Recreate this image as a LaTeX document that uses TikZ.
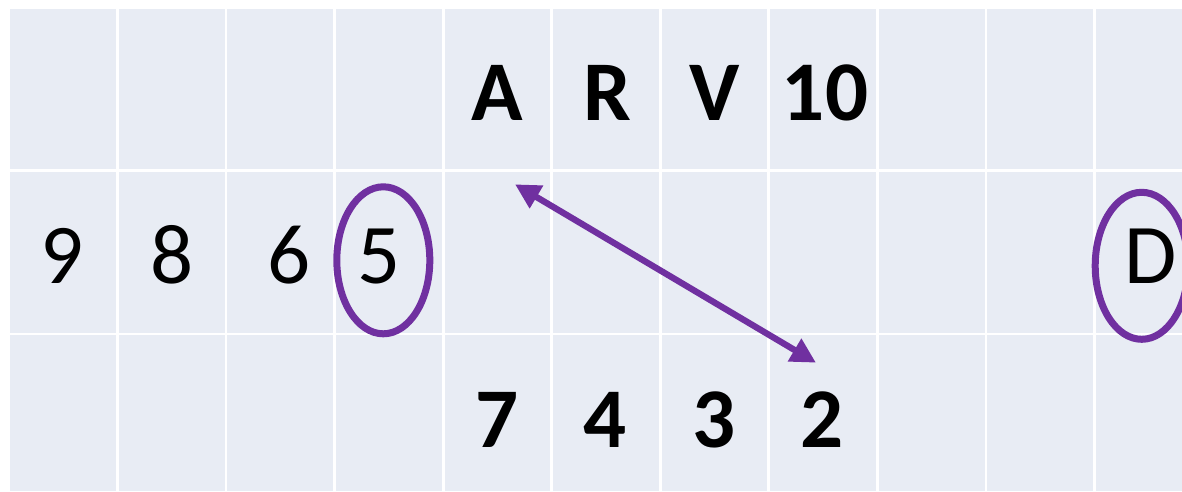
\documentclass[tikz,border=0pt]{standalone}
\usepackage{fontspec}
\setmainfont{Carlito}
\usetikzlibrary{shapes.geometric,arrows.meta}
\definecolor{cellfill}{RGB}{232,236,244}
\definecolor{ringpurple}{RGB}{112,48,160}
\tikzset{
  cellbg/.style={fill=cellfill,draw=none},
  gridline/.style={draw=white,line width=2.7pt},
  plain/.style={anchor=base,inner sep=0pt,font=\fontsize{85}{100}\selectfont},
  heavy/.style={anchor=base,inner sep=0pt,font=\fontsize{85}{100}\selectfont\bfseries},
  ring/.style={ellipse,draw=ringpurple,line width=7pt,inner sep=0pt,minimum width=93pt,minimum height=147pt},
  swap/.style={draw=ringpurple,line width=6.3pt,{Triangle[length=25pt,width=25pt]}-{Triangle[length=25pt,width=25pt]}}
}
\begin{document}
\begin{tikzpicture}[x=1pt,y=-1pt]
\useasboundingbox (0,0) rectangle (1182,491);
\fill[white] (0,0) rectangle (1182,491);
\fill[cellbg] (10,9) rectangle (1182,491);
\foreach \k in {0,...,9} {
  \draw[gridline] ({117.5+\k*108.55},9) -- ({117.5+\k*108.55},491);
}
\draw[gridline] (10,170.7) -- (1182,170.7);
\draw[gridline] (10,334) -- (1182,334);
% top row
\node[heavy] (tA) at (497.5,120) {A};
\node[heavy] (tR) at (607.5,120) {R};
\node[heavy] (tV) at (715,120) {V};
\node[heavy] (t10) at (825,120) {10};
% middle row
\node[plain] (m9) at (62.5,283) {9};
\node[plain] (m8) at (171.7,283) {8};
\node[plain] (m6) at (289,283) {6};
\node[plain] (m5) at (379,283) {5};
\node[plain] (mD) at (1151,283) {D};
% bottom row
\node[heavy] (b7) at (497.5,447) {7};
\node[heavy] (b4) at (605,447) {4};
\node[heavy] (b3) at (714,447) {3};
\node[heavy] (b2) at (822.5,447) {2};
% rings
\node[ring] (r5) at (383.3,260.3) {};
\node[ring] (rD) at (1141.7,265.8) {};
% arrow
\coordinate (p) at (515,184.3);
\coordinate (q) at (816,362.7);
\draw[swap] (p) -- (q);
\end{tikzpicture}
\end{document}
